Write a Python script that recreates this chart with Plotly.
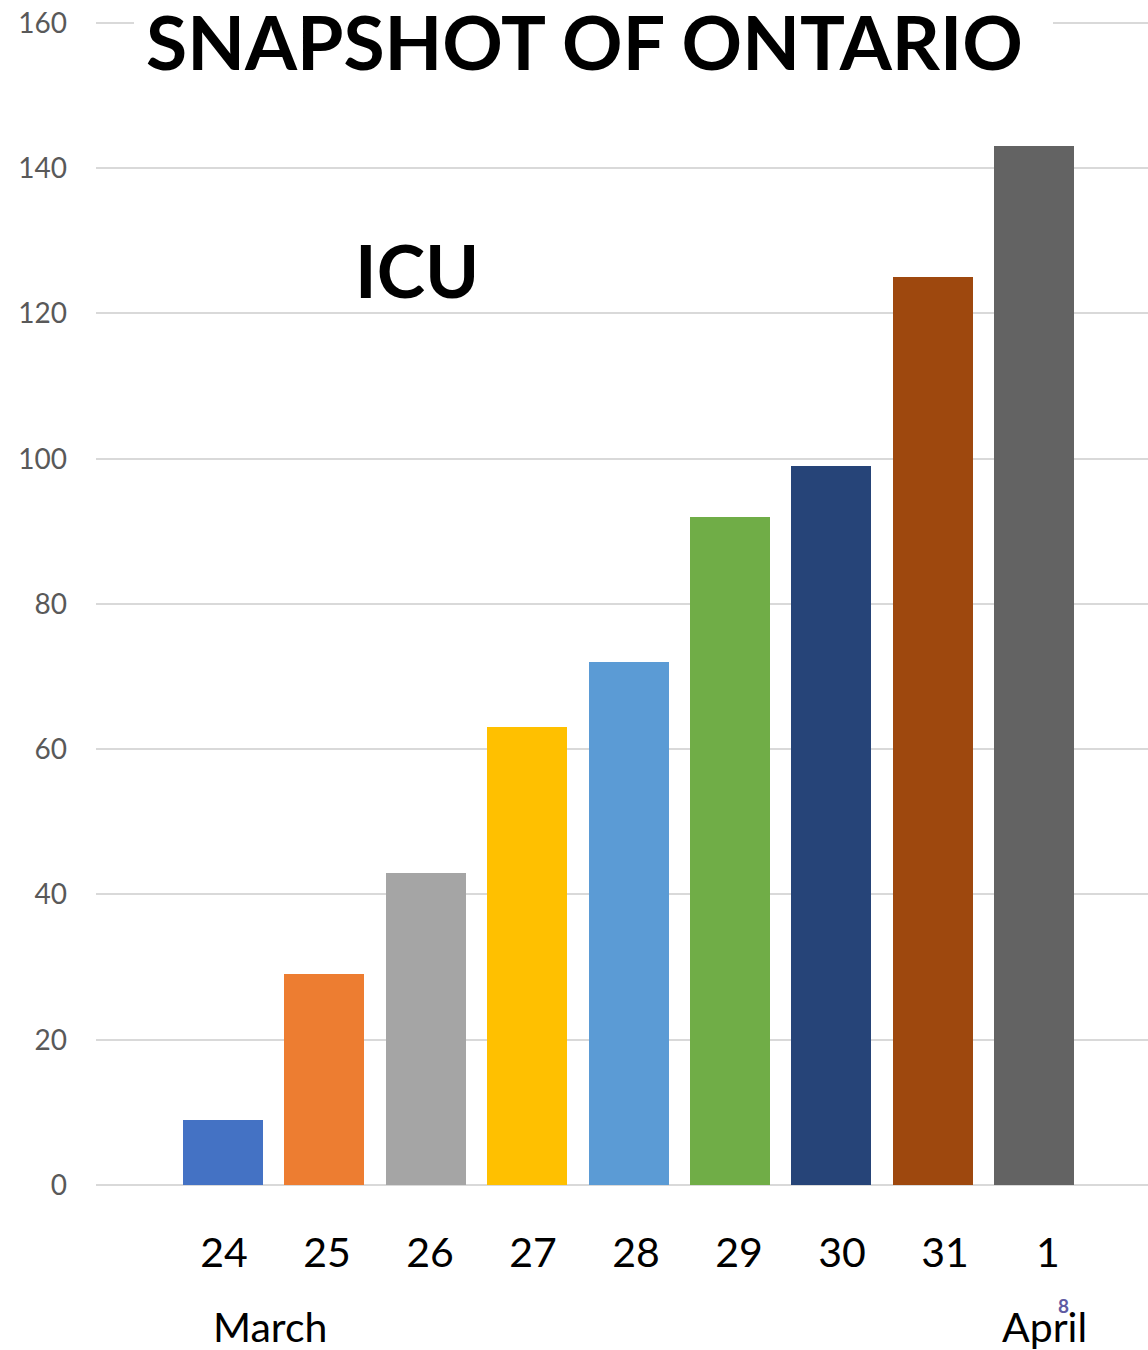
import plotly.graph_objects as go

days = ["24", "25", "26", "27", "28", "29", "30", "31", "1"]
icu = [9, 29, 43, 63, 72, 92, 99, 125, 143]
bar_colors = ["#4472C4", "#ED7D31", "#A5A5A5", "#FFC000", "#5B9BD5",
              "#70AD47", "#264478", "#9E480E", "#636363"]
y_ticks = [0, 20, 40, 60, 80, 100, 120, 140, 160]
title_text = "SNAPSHOT OF ONTARIO"
subtitle_text = "ICU"
month_labels = ["March", "April"]
page_number = "8"

W, H = 1148, 1350
L, R, T, B = 96, 0, 20, 165
FONT = "Lato"
Y_TOP = 160.4  # a hair above 160 so the top gridline is drawn

pos = list(range(len(days)))
# bar axis: bar 0 centre at px 223, step 101.4
x_range = [(L - 223) / 101.4, (W - R - 223) / 101.4]
# label axis
x2_range = [(L - 224.0) / 103.0, (W - R - 224.0) / 103.0]

fig = go.Figure()
fig.add_trace(go.Bar(x=pos, y=icu, marker=dict(color=bar_colors, line=dict(width=0)),
                     width=0.79, showlegend=False, hoverinfo="y"))
# invisible trace to carry the label axis
fig.add_trace(go.Scatter(x=pos, y=[None] * len(pos), xaxis="x2", showlegend=False,
                         hoverinfo="skip", mode="markers"))

pw = W - L - R
ph = H - T - B

def px_x(p):
    return (p - L) / pw

def px_y(p):
    return (H - B - p) / ph

fig.update_layout(
    width=W, height=H,
    margin=dict(l=L, r=R, t=T, b=B, pad=0),
    paper_bgcolor="white", plot_bgcolor="white",
    font=dict(family=FONT, color="#000000"),
    bargap=0,
    xaxis=dict(range=x_range, showticklabels=False, showgrid=False, zeroline=False,
               showline=False, ticks=""),
    xaxis2=dict(range=x2_range, overlaying="x", anchor="y", side="bottom",
                tickvals=pos, ticktext=days, showgrid=False, zeroline=False,
                showline=False, ticks="", ticklabelstandoff=40,
                tickfont=dict(family=FONT, size=41, color="#000000")),
    yaxis=dict(range=[0, Y_TOP], tickvals=y_ticks, showgrid=True, gridcolor="#D9D9D9",
               gridwidth=2, zeroline=True, zerolinecolor="#D9D9D9", zerolinewidth=2,
               showline=False, ticks="", ticklabelstandoff=28,
               tickfont=dict(family=FONT, size=28, color="#595959")),
)

# white box behind the title hiding part of the top gridline
fig.add_shape(type="rect", xref="paper", yref="paper",
              x0=px_x(134), x1=px_x(1053), y0=px_y(30), y1=px_y(16),
              fillcolor="white", line=dict(width=0), layer="above")

fig.add_annotation(text=f"<b>{title_text}</b>", xref="paper", yref="paper",
                   x=px_x(584), y=px_y(41), showarrow=False, xanchor="center", yanchor="middle",
                   font=dict(family=FONT, size=75, color="#000000"))
fig.add_annotation(text=f"<b>{subtitle_text}</b>", xref="paper", yref="paper",
                   x=px_x(417), y=px_y(270), showarrow=False, xanchor="center", yanchor="middle",
                   font=dict(family=FONT, size=73, color="#000000"))
fig.add_annotation(text=month_labels[0], xref="paper", yref="paper",
                   x=px_x(270), y=px_y(1326), showarrow=False, xanchor="center", yanchor="middle",
                   font=dict(family=FONT, size=41, color="#000000"))
fig.add_annotation(text=month_labels[1], xref="paper", yref="paper",
                   x=px_x(1044), y=px_y(1326), showarrow=False, xanchor="center", yanchor="middle",
                   font=dict(family=FONT, size=41, color="#000000"))
fig.add_annotation(text=f"<b>{page_number}</b>", xref="paper", yref="paper",
                   x=px_x(1063), y=px_y(1305), showarrow=False, xanchor="center", yanchor="middle",
                   font=dict(family=FONT, size=19, color="#5F5AA2"))

fig.write_html("out.html")
